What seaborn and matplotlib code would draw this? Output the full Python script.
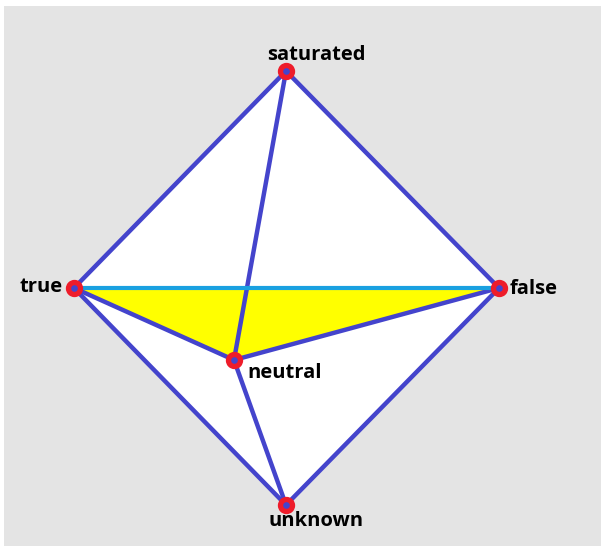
import numpy as np
import pandas as pd
import matplotlib
matplotlib.use("Agg")
import matplotlib.pyplot as plt
import seaborn as sns

# vertex positions (pixel-like coordinates, y grows downward)
nodes = ["saturated", "true", "false", "neutral", "unknown"]
node_x = [286, 74, 499, 234, 286]
node_y = [71, 288, 288, 360, 505]

# edges of the octahedron-like figure
edges = [("saturated", "true"), ("saturated", "false"), ("saturated", "neutral"),
         ("true", "unknown"), ("false", "unknown"), ("neutral", "unknown"),
         ("true", "neutral"), ("false", "neutral")]
highlight_edge = ("true", "false")
outline = ["true", "saturated", "false", "unknown"]
face = ["true", "false", "neutral"]

# label anchors: (dx, dy, ha)
label_offsets = {
    "saturated": (30, -16, "center"),
    "true": (-11, -1, "right"),
    "false": (11, 1, "left"),
    "neutral": (13, 13, "left"),
    "unknown": (30, 16, "center"),
}

pos = {n: (x, y) for n, x, y in zip(nodes, node_x, node_y)}

sns.set_theme(style="white")
plt.rcParams["font.family"] = ["Open Sans", "DejaVu Sans"]

fig = plt.figure(figsize=(6.01, 5.46), dpi=100)
ax = fig.add_axes([4 / 601, 0, 597 / 601, 540 / 546])
ax.set_facecolor("#e4e4e4")
ax.set_xlim(4, 601)
ax.set_ylim(546, 6)
ax.set_axis_off()
ax.add_patch(plt.Rectangle((4, 6), 597, 540, color="#e4e4e4", zorder=0))

ax.fill([pos[n][0] for n in outline], [pos[n][1] for n in outline],
        color="white", zorder=1, lw=0)
ax.fill([pos[n][0] for n in face], [pos[n][1] for n in face],
        color="#ffff00", zorder=2, lw=0)

rows = []
for i, (a, b) in enumerate(edges):
    rows.append({"edge": i, "x": pos[a][0], "y": pos[a][1]})
    rows.append({"edge": i, "x": pos[b][0], "y": pos[b][1]})
edge_df = pd.DataFrame(rows)
sns.lineplot(data=edge_df, x="x", y="y", units="edge", estimator=None,
             sort=False, color="#4444cc", lw=3.2, ax=ax, zorder=3)

hl = pd.DataFrame({"x": [pos[n][0] for n in highlight_edge],
                   "y": [pos[n][1] for n in highlight_edge]})
sns.lineplot(data=hl, x="x", y="y", sort=False, estimator=None,
             color="#1aa0e0", lw=3.0, ax=ax, zorder=4)

node_df = pd.DataFrame({"name": nodes, "x": node_x, "y": node_y})
sns.scatterplot(data=node_df, x="x", y="y", s=75, color="#4444cc",
                edgecolor="#ee1c2a", linewidth=3.8, ax=ax, zorder=5)

for n in nodes:
    dx, dy, ha = label_offsets[n]
    ax.text(pos[n][0] + dx, pos[n][1] + dy, n, ha=ha, va="center",
            fontsize=14.5, fontweight="bold", color="black", zorder=6)

ax.set_xlim(4, 601)
ax.set_ylim(546, 6)
ax.set_xlabel("")
ax.set_ylabel("")
fig.savefig("out.png", dpi=100, facecolor="white")
